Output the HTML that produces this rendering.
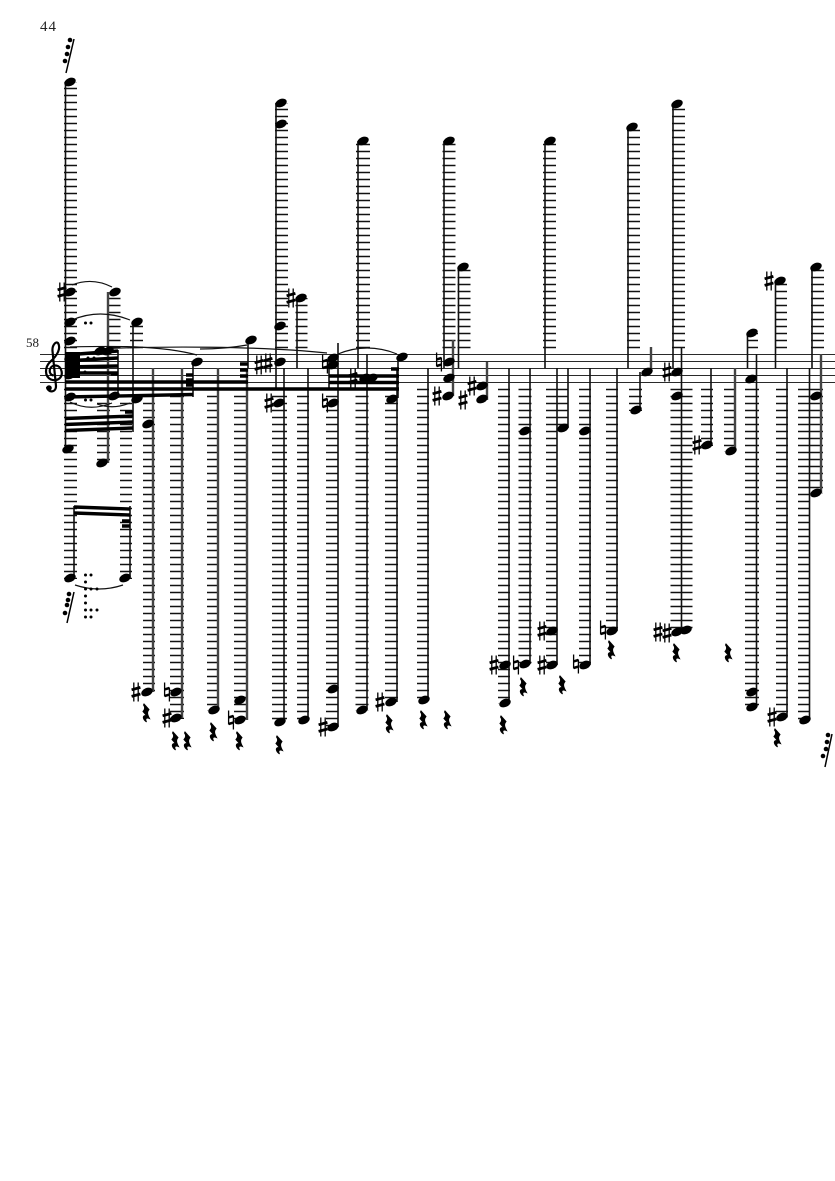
<!DOCTYPE html>
<html><head><meta charset="utf-8"><style>
html,body{margin:0;padding:0;background:#fff}
svg{display:block}
.st{stroke:#2a2a2a;stroke-width:1.1;fill:none}
.l path{fill:none;stroke:#111;stroke-dasharray:1.6 5.4}
.v{fill:none;stroke:#111;stroke-width:1.6}
.g{fill:none;stroke:#444;stroke-width:2.4}
.b{fill:none;stroke:#000;stroke-width:3.4}
.sl path{fill:none;stroke:#111;stroke-width:1.2}
.p{fill:none;stroke:none}
text{font-family:"Liberation Serif",serif;fill:#222}
</style></head><body>
<svg xmlns="http://www.w3.org/2000/svg" width="835" height="1181" viewBox="0 0 835 1181">
<defs>
<marker id="mn" markerUnits="userSpaceOnUse" markerWidth="14" markerHeight="10" refX="7" refY="5" overflow="visible"><ellipse cx="7" cy="5" rx="6" ry="4" transform="rotate(-24 7 5)"/></marker>
<marker id="ms" markerUnits="userSpaceOnUse" markerWidth="10" markerHeight="20" refX="5" refY="10" overflow="visible"><path fill="none" stroke="#000" stroke-width="1.3" d="M2.8 .5V19.5M7.2 .5V19.5"/><path fill="none" stroke="#000" stroke-width="2.8" d="M.6 7.8L9.4 5.4M.6 14.4L9.4 12"/></marker>
<marker id="mh" markerUnits="userSpaceOnUse" markerWidth="8" markerHeight="20" refX="4" refY="10" overflow="visible"><path fill="none" stroke="#000" stroke-width="1.3" d="M1.6 .5V14.5M6.4 5.5V19.5"/><path fill="none" stroke="#000" stroke-width="2.5" d="M1.6 7.4L6.4 6M1.6 14L6.4 12.6"/></marker>
<marker id="mr" markerUnits="userSpaceOnUse" markerWidth="10" markerHeight="20" refX="5" refY="10" overflow="visible"><path stroke="#000" d="M3 1L8 6.5C6.5 8.5 5.5 10 8.5 15.5C6 14.5 3.500 15 5.500 19C1.500 16 1 12 5.500 12.500L2 8.500C4 6.500 4.500 4.500 2.500 2Z"/></marker>
<marker id="md" markerUnits="userSpaceOnUse" markerWidth="4" markerHeight="4" refX="2" refY="2" overflow="visible"><circle cx="2" cy="2" r="1.5"/></marker>
<marker id="mg" markerUnits="userSpaceOnUse" markerWidth="6" markerHeight="6" refX="3" refY="3" overflow="visible"><circle cx="3" cy="3" r="2.3"/></marker>
</defs>

<text x="40" y="31" font-size="15" letter-spacing="1">44</text>
<text x="26" y="347" font-size="13">58</text>

<path class="st" d="M40 354.5H835M40 361.500H835M40 368.500H835M40 375.500H835M40 382.500H835"/>

<path d="M47 387C48 393 56 393 56 386L52.500 351C52 345 56 341 58 343C61 348 58 355 50 362C45 367 44 376 51 379.500C58 382 63 377 61.500 371C60 364 52 364 50 369C49 373 51 375 53.500 375.500" fill="none" stroke="#000" stroke-width="2.200"/>
<circle cx="49" cy="388" r="2.800"/>

<g class="l">
<path stroke-width="13" d="M70.500 348.300V82M114 348.300V292M136.500 348.300V322M281.500 348.300V103M449 348.300V140M464 348.300V267M549.500 348.300V140M633.500 348.300V127M678.500 348.300V104M817.500 348.300V267M70.500 388.700V579M103.500 388.700V464M115 388.700V397M136.500 388.700V400M362 388.700V711M391.500 388.700V703M525 388.700V665M635.500 388.700V411M816.500 388.700V494"/>
<path stroke-width="12" d="M301.500 348.300V298M781 348.300V281M126 388.700V579M149 388.700V693M213 388.700V711M303 388.700V721M332 388.700V728M423 388.700V701M504 388.700V704M585 388.700V666M612 388.700V632M707 388.700V446M730 388.700V452M782 388.700V718M804 388.700V721"/>
<path stroke-width="14" d="M363 348.300V140M177 388.700V719M241 388.700V721M752 388.700V708"/>
<path stroke-width="15" d="M279.500 388.700V723"/>
<path stroke-width="11" d="M752.500 348.300V333M563 388.700V429M551.500 388.700V666"/>
<path stroke-width="22" d="M681.500 388.700V633"/>
</g>

<path class="v" d="M65.500 82V449M74 506V578M118 350V398M133 322V432M130 506V578M193 362V397M248 340V368M276 103V389M284 368V722M297 298V368M308 368V720M329 358V390M338 343V727M358 141V368M367 354V710M398 357V398M397 368V702M428 368V700M444 141V368M458.500 267V368M509 368V703M530 368V664M545 141V368M557 368V665M568 368V428M590 368V665M617 368V631M628 127V368M640 372V410M673 104V368M681.500 348V632M711 368V445M747.500 333V368M756.500 354V707M775.500 281V368M787 368V717M809.500 368V720M812 267V368"/>
<path class="g" d="M108 292V463M153 368V692M182 368V718M218 368V710M247 368V720M453 340V396M487 362V400M651 347V372M735 368V451M821 354V493"/>

<path class="b" d="M65 382H248M65 389H399M65 397L193 394.500M65 418.500L133 416M65 424.500L133 422M65 430.500L133 428M74 507L130 509M74 513L130 515M125 412H133M122 521H130M122 526H130M111 374H118M186 375H193M186 380H193M186 385H193M240 364H248M240 370H248M240 376H248M329 376H399M329 382.500H399M391 369H399M65 355L118 351M65 361L118 358M65 367L118 366M65 373L118 373"/>
<path d="M65 352H80V378H65Z"/>

<g class="sl">
<path d="M72 285Q92 277 112 287M72 320Q100 308 130 320M70 402Q90 412 112 403M97 404Q113 410 130 403M75 585Q99 593 123 585M338 354Q367 342 397 354M70 347C110 346 160 345 197 355M200 349Q225 349 247 345"/>
<path d="M97 349C160 346 260 346 327 353" stroke-width="1.800"/>
</g>

<path d="M66 73L74 39M67 623L74 592M825 767L832 734" stroke="#000" stroke-width="1.500" fill="none"/>

<polyline class="p" marker-start="url(#mg)" marker-mid="url(#mg)" marker-end="url(#mg)" points="70,40 68,47 67,54 65,61 69,594 68,600 67,605 65,613 828,735 827,742 826,749 823,756"/>
<polyline class="p" marker-start="url(#md)" marker-mid="url(#md)" marker-end="url(#md)" points="85.500,575 91,575 85.500,582 85.500,589 91,589 97,589 85.500,596 85.500,603 85.500,610 91,610 97,610 85.500,617 91,617 85.500,323 91,323 85.500,400 91,400 85,372 88,358 94,358"/>
<polyline class="p" marker-start="url(#mn)" marker-mid="url(#mn)" marker-end="url(#mn)" points="70,82 70,292 70,322 70,341 70,358 70,375 70,397 68,449 70,578 125,578 115,292 114,396 102,463 137,322 137,399 148,424 147,692 176,692 176,718 197,362 214,710 240,700 240,720 251,340 281,103 281,124 280,326 280,362 279,403 280,722 301,298 304,720 333,358 333,365 333,403 333,689 333,727 363,141 365,378 372,378 362,710 402,357 392,399 391,702 424,700 449,141 449,362 449,378 448,396 463,267 482,386 482,399 550,141 505,665 505,703 525,431 525,664 552,631 552,665 563,428 585,431 585,665 612,631 632,127 647,372 636,410 677,104 677,372 677,396 677,632 686,630 707,445 731,451 752,333 751,379 752,692 752,707 780,281 782,717 816,267 816,396 816,493 805,720 100,351 108,351"/>
<polyline class="p" marker-start="url(#ms)" marker-mid="url(#ms)" marker-end="url(#ms)" points="62,292 136,692 167,718 259,365 268,363 269,403 291,298 323,727 380,702 353,378 437,396 472,386 463,400 494,665 542,631 542,665 667,372 658,632 667,633 697,445 769,281 772,717"/>
<polyline class="p" marker-start="url(#mh)" marker-mid="url(#mh)" marker-end="url(#mh)" points="167,692 231,720 325,364 325,403 439,362 516,665 576,664 603,630"/>
<polyline class="p" marker-start="url(#mr)" marker-mid="url(#mr)" marker-end="url(#mr)" points="146,713 175,741 187,741 213,732 239,741 279,745 389,724 423,720 447,720 503,725 523,687 562,685 611,650 676,653 728,653 777,738"/>
</svg>
</body></html>
